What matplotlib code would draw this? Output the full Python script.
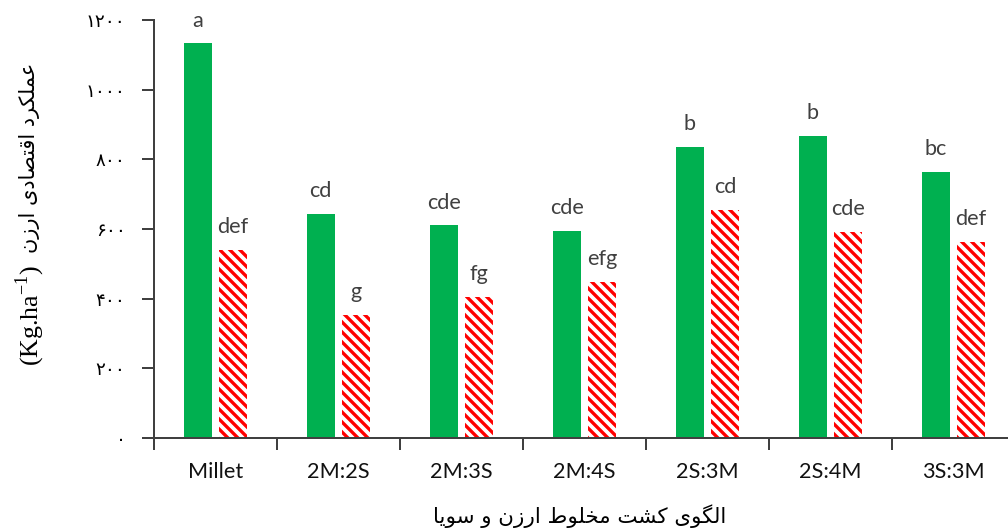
import numpy as np
import matplotlib
matplotlib.use("Agg")
import matplotlib.pyplot as plt

# values (kg/ha)
categories = ["Millet", "2M:2S", "2M:3S", "2M:4S", "2S:3M", "2S:4M", "3S:3M"]
series_1 = [1133, 643, 611, 594, 836, 868, 765]
series_2 = [540, 353, 405, 449, 655, 591, 564]
letters_1 = ["a", "cd", "cde", "cde", "b", "b", "bc"]
letters_2 = ["def", "g", "fg", "efg", "cd", "cde", "def"]
yticks = [0, 200, 400, 600, 800, 1000, 1200]

XLABEL = "الگوی کشت مخلوط ارزن و سویا"
YLABEL = "عملکرد اقتصادی ارزن"

# matplotlib has no Arabic shaping: pick presentation forms and reverse by hand
FORMS = {  # iso, fin, ini, med
    "ا": (0xFE8D, 0xFE8E, None, None),
    "د": (0xFEA9, 0xFEAA, None, None),
    "ر": (0xFEAD, 0xFEAE, None, None),
    "ز": (0xFEAF, 0xFEB0, None, None),
    "و": (0xFEED, 0xFEEE, None, None),
    "ع": (0xFEC9, 0xFECA, 0xFECB, 0xFECC),
    "م": (0xFEE1, 0xFEE2, 0xFEE3, 0xFEE4),
    "ل": (0xFEDD, 0xFEDE, 0xFEDF, 0xFEE0),
    "ک": (0xFB8E, 0xFB8F, 0xFB90, 0xFB91),
    "ق": (0xFED5, 0xFED6, 0xFED7, 0xFED8),
    "ت": (0xFE95, 0xFE96, 0xFE97, 0xFE98),
    "ص": (0xFEB9, 0xFEBA, 0xFEBB, 0xFEBC),
    "ی": (0xFBFC, 0xFBFD, 0xFBFE, 0xFBFF),
    "ن": (0xFEE5, 0xFEE6, 0xFEE7, 0xFEE8),
    "گ": (0xFB92, 0xFB93, 0xFB94, 0xFB95),
    "ش": (0xFEB5, 0xFEB6, 0xFEB7, 0xFEB8),
    "خ": (0xFEA5, 0xFEA6, 0xFEA7, 0xFEA8),
    "ط": (0xFEC1, 0xFEC2, 0xFEC3, 0xFEC4),
    "س": (0xFEB1, 0xFEB2, 0xFEB3, 0xFEB4),
}


def shape(s):
    out = []
    for i, ch in enumerate(s):
        if ch not in FORMS:
            out.append(ch)
            continue
        prev = s[i - 1] if i > 0 else ""
        nxt = s[i + 1] if i + 1 < len(s) else ""
        dual = FORMS[ch][2] is not None
        p = prev in FORMS and FORMS[prev][2] is not None
        n = dual and nxt in FORMS
        k = 3 if (p and n) else 1 if p else 2 if n else 0
        out.append(chr(FORMS[ch][k]))
    return "".join(out)[::-1]


def persian(n):
    return "".join(chr(0x06F0 + int(d)) for d in str(n))


GREEN = "#00B050"
TXT = "#404040"
plt.rcParams["hatch.linewidth"] = 2.0
plt.rcParams["font.family"] = ["Lato", "DejaVu Sans"]

W, H = 1008, 530
fig = plt.figure(figsize=(W / 120, H / 120), dpi=120)
ax = fig.add_axes([154 / W, 92 / H, 861 / W, 418 / H])

x = np.arange(len(categories))
bw, off = 0.224, 0.144
ax.bar(x - off, series_1, bw, color=GREEN, linewidth=0)
ax.bar(x + off, series_2, bw, color="white", edgecolor="red", linewidth=0,
       hatch="\\\\\\\\")

for xi, v, t in zip(x - off, series_1, letters_1):
    ax.annotate(t, (xi, v), xytext=(0, 10), textcoords="offset points",
                ha="center", va="baseline", fontsize=13, color=TXT)
for xi, v, t in zip(x + off, series_2, letters_2):
    ax.annotate(t, (xi, v), xytext=(0, 10), textcoords="offset points",
                ha="center", va="baseline", fontsize=13, color=TXT)

ax.set_xlim(-0.5, len(categories) - 0.5)
ax.set_ylim(0, 1200)
ax.set_xticks(np.arange(len(categories) + 1) - 0.5)
ax.set_xticklabels([])
ax.set_xticks(x, minor=True)
ax.set_xticklabels(categories, minor=True, fontsize=13, color="#111111")
ax.tick_params(axis="x", which="minor", length=0, pad=14.5)
ax.tick_params(axis="x", which="major", length=7, width=1.2, color=TXT)
ax.set_yticks(yticks)
ax.set_yticklabels([persian(v) for v in yticks], family="DejaVu Sans",
                   fontsize=11, color="black")
ax.tick_params(axis="y", length=7, width=1.2, color=TXT, pad=10)
for s in ("top", "right"):
    ax.spines[s].set_visible(False)
for s in ("left", "bottom"):
    ax.spines[s].set_color(TXT)
    ax.spines[s].set_linewidth(1.2)

fig.text(580 / W, 1 - 516 / H, shape(XLABEL), family="DejaVu Sans",
         fontsize=12.8, ha="center", va="center", color="black")
fig.text(30 / W, 1 - 158 / H, shape(YLABEL), family="DejaVu Sans",
         fontsize=12.5, ha="center", va="center", rotation=90, color="black")
fig.text(30 / W, 1 - 316 / H, r"(Kg.ha$^{\mathregular{-1}}$)",
         family="Liberation Serif", fontsize=15.5, ha="center", va="center",
         rotation=90, color="black")

fig.savefig("out.png", dpi=120)
